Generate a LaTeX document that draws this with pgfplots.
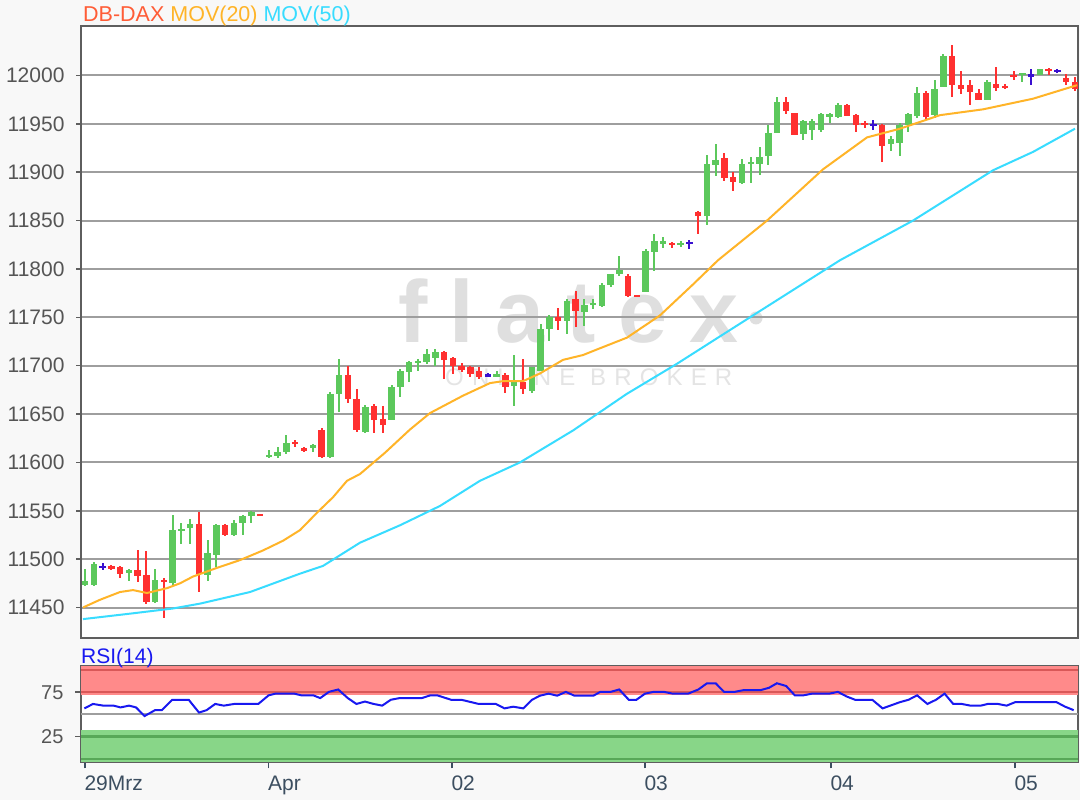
\documentclass[border=0pt]{standalone}
\usepackage{fontspec}
\setmainfont{Liberation Sans}
\newfontfamily\wmfont[LetterSpace=25]{Liberation Sans}
\newfontfamily\wmsmall[LetterSpace=34]{Liberation Sans}
\usepackage{pgfplots}
\pgfplotsset{compat=1.18}
\usepackage{pgfplotstable}
\definecolor{bggray}{HTML}{F8F8F8}
\definecolor{framegray}{HTML}{5E5E5E}
\definecolor{gridgray}{HTML}{9E9E9E}
\definecolor{labgray}{HTML}{555555}
\definecolor{xlab}{HTML}{3C4E60}
\definecolor{cgreen}{HTML}{5CC85C}
\definecolor{cred}{HTML}{FF3030}
\definecolor{cblue}{HTML}{3A10D0}
\definecolor{mov20}{HTML}{FFB428}
\definecolor{mov50}{HTML}{38DCFF}
\definecolor{daxred}{HTML}{FF5C36}
\definecolor{rsiblue}{HTML}{1818F0}
\definecolor{bandred}{HTML}{FF8A8A}
\definecolor{bandredline}{HTML}{D95858}
\definecolor{bandgreen}{HTML}{88D688}
\definecolor{bandgreenline}{HTML}{58A858}
\definecolor{wmgray}{HTML}{DFDFDF}

\pgfplotstableread{
i O H L C c
0 11473 11490 11472 11477 1
1 11473 11497 11472 11495 1
2 11492 11496 11489 11492 3
3 11493 11494 11489 11490 2
4 11492 11493 11481 11485 2
5 11486 11490 11478 11489 1
6 11489 11509 11476 11483 2
7 11484 11508 11454 11456 2
8 11456 11490 11455 11478 1
9 11478 11480 11439 11477 2
10 11475 11546 11473 11530 1
11 11529 11537 11516 11531 1
12 11532 11541 11516 11536 1
13 11536 11549 11466 11485 2
14 11484 11520 11478 11506 1
15 11504 11536 11492 11535 1
16 11535 11536 11524 11525 2
17 11525 11540 11524 11537 1
18 11537 11546 11525 11545 1
19 11545 11550 11537 11549 1
20 11546 11546 11545 11545 2
21 11606 11613 11605 11608 1
22 11607 11616 11605 11611 1
23 11611 11628 11609 11620 1
24 11621 11623 11616 11619 2
25 11615 11616 11611 11612 2
26 11615 11619 11611 11618 1
27 11634 11636 11605 11606 2
28 11606 11673 11605 11671 1
29 11671 11707 11652 11690 1
30 11690 11700 11662 11666 2
31 11666 11676 11632 11633 2
32 11631 11659 11630 11657 1
33 11658 11660 11631 11644 2
34 11645 11658 11630 11639 2
35 11644 11680 11644 11678 1
36 11678 11697 11668 11695 1
37 11693 11705 11683 11704 1
38 11703 11707 11695 11705 1
39 11704 11717 11702 11712 1
40 11708 11717 11700 11714 1
41 11714 11715 11686 11706 2
42 11708 11709 11691 11700 2
43 11700 11703 11693 11696 2
44 11699 11700 11688 11691 2
45 11695 11699 11686 11688 2
46 11690 11693 11688 11690 3
47 11688 11694 11688 11691 1
48 11690 11692 11672 11678 2
49 11679 11711 11658 11683 1
50 11683 11707 11671 11676 2
51 11674 11699 11672 11699 1
52 11695 11743 11695 11738 1
53 11738 11752 11726 11750 1
54 11750 11760 11737 11746 2
55 11746 11769 11733 11767 1
56 11769 11777 11740 11757 2
57 11756 11769 11741 11763 1
58 11763 11769 11759 11765 1
59 11762 11786 11761 11784 1
60 11783 11795 11781 11795 1
61 11795 11813 11793 11799 1
62 11793 11795 11771 11772 2
63 11772.5 11772.5 11772 11772 2
64 11776 11821 11776 11819 1
65 11818 11836 11798 11829 1
66 11826 11833 11822 11829 1
67 11827 11828 11822 11825 2
68 11825 11829 11823 11827 1
69 11826.5 11830 11821 11826.5 3
70 11859 11860 11836 11855 2
71 11855 11918 11846 11909 1
72 11907 11929 11896 11913 1
73 11915 11920 11891 11894 2
74 11895 11900 11881 11890 2
75 11889 11914 11888 11909 1
76 11908 11916 11889 11911 1
77 11909 11926 11897 11916 1
78 11917 11949 11908 11941 1
79 11941 11978 11941 11973 1
80 11973 11978 11960 11963 2
81 11961 11961 11939 11939 2
82 11939 11954 11933 11953 1
83 11944 11955 11933 11953 1
84 11944 11961 11942 11960 1
85 11957 11961 11951 11960 1
86 11957 11972 11956 11970 1
87 11970 11971 11958 11958 2
88 11959 11960 11942 11949 2
89 11950 11953 11946 11949 2
90 11949 11954 11944 11949 3
91 11949 11950 11911 11927 2
92 11929 11937 11922 11934 1
93 11930 11951 11917 11949 1
94 11949 11961 11942 11960 1
95 11958 11988 11956 11982 1
96 11982 11984 11955 11957 2
97 11959 11995 11956 11986 1
98 11988 12022 11988 12020 1
99 12020 12032 11978 11990 2
100 11990 12005 11981 11986 2
101 11990 11995 11969 11983 2
102 11982 11986 11975 11975 2
103 11975 11995 11975 11993 1
104 11991 12009 11984 11987 2
105 11989 11991 11986 11988 2
106 12000 12005 11995 11999 2
107 12001 12002 11993 12002 1
108 12000 12007 11990 12000 3
109 12001 12007 12001 12007 1
110 12006 12008 12001 12005 2
111 12005 12007 12003 12005 3
112 11998 12002 11990 11993 2
113 11993 11998 11984 11986 2
}\candles

\pgfplotsset{
  wick/.style 2 args={forget plot, draw=none, mark=none,
    restrict expr to domain={\thisrow{c}}{#1:#1},
    error bars/.cd, y dir=both, y explicit, error mark=none,
    error bar style={line width=2pt, draw=#2}},
  body/.style 2 args={forget plot, draw=none, mark=none,
    restrict expr to domain={\thisrow{c}}{#1:#1},
    error bars/.cd, y dir=both, y explicit, error mark=none,
    error bar style={line width=6.5pt, draw=#2}},
}
\newcommand{\wicks}[2]{\addplot[wick={#1}{#2}] table[x expr=85+8.76*\thisrow{i}, y expr=(\thisrow{H}+\thisrow{L})/2, y error expr=(\thisrow{H}-\thisrow{L})/2]{\candles};}
\newcommand{\bodies}[2]{\addplot[body={#1}{#2}] table[x expr=85+8.76*\thisrow{i}, y expr=(\thisrow{O}+\thisrow{C})/2, y error expr={max(abs(\thisrow{O}-\thisrow{C})/2,1.1)}]{\candles};}

\begin{document}
\begin{tikzpicture}[x=1pt,y=1pt]
\path[use as bounding box, fill=bggray] (0,0) rectangle (1080,800);
\fill[white] (81,162) rectangle (1078,774);
\fill[white] (81,37.4) rectangle (1078,133.8);
% watermark
\node[anchor=base west, inner sep=0, text depth=0pt, text=wmgray, font=\wmfont\bfseries\fontsize{88}{88}\selectfont] at (398,457) {flatex};
\fill[wmgray] (756,482) circle (6.5);
\node[anchor=base west, inner sep=0, text depth=0pt, text=wmgray!85!white, font=\wmsmall\fontsize{24}{24}\selectfont] at (445,414) {ONLINE BROKER};

\begin{axis}[at={(81,167)}, anchor=south west, width=997pt, height=612pt, scale only axis,
  xmin=81, xmax=1078, ymin=11418, ymax=12050.7,
  xtick=\empty, ytick={11450,11500,...,12000}, ytick pos=left,
  tick align=outside, major tick length=5pt,
  tick style={draw=framegray, line width=1.5pt},
  ymajorgrids, major grid style={draw=gridgray, line width=2pt},
  axis line style={draw=framegray, line width=2pt},
  scaled y ticks=false,
  /pgf/number format/assume math mode=true,
  /pgf/number format/set thousands separator={},
  yticklabel style={font=\fontsize{21}{21}\selectfont, text=labgray, anchor=east, xshift=-8pt},
]
\wicks{1}{cgreen}
\wicks{2}{cred}
\wicks{3}{cblue}
\bodies{1}{cgreen}
\bodies{2}{cred}
\bodies{3}{cblue}
\addplot[mov20, line width=2pt, mark=none] coordinates {(83,11450) (100,11458) (120,11466) (133,11468) (147,11465) (167,11470) (180,11475) (193,11482) (217,11491) (240,11499) (263,11509) (283,11519) (300,11530) (317,11548) (333,11564) (347,11581) (360,11588) (385,11610) (410,11634) (430,11651) (463,11669) (490,11682) (503,11684) (523,11684) (540,11692) (563,11706) (583,11711) (600,11718) (627,11729) (660,11752) (693,11784) (718,11809) (767,11850) (823,11903) (867,11936) (900,11945) (940,11959) (983,11965) (1033,11976) (1077,11990)};
\addplot[mov50, line width=2pt, mark=none] coordinates {(83,11438) (133,11444) (173,11449) (200,11454) (250,11466) (300,11485) (323,11493) (360,11517) (400,11535) (440,11555) (480,11581) (520,11600) (573,11633) (627,11671) (677,11702) (718,11729) (750,11750) (840,11809) (913,11850) (993,11902) (1033,11921) (1075,11945)};
\end{axis}

\begin{axis}[at={(81,42.4)}, anchor=south west, width=997pt, height=96.4pt, scale only axis,
  xmin=81, xmax=1078, ymin=-4, ymax=104.6,
  xtick={85,268.6,452,645,831,1015}, xticklabels={29Mrz,Apr,02,03,04,05},
  ytick={25,75}, ytick pos=left, xtick pos=bottom,
  tick align=outside, major tick length=6pt,
  tick style={draw=framegray, line width=1.5pt},
  xtick style={draw=xlab},
  axis line style={draw=framegray, line width=2pt},
  /pgf/number format/assume math mode=true,
  yticklabel style={font=\fontsize{20}{20}\selectfont, text=labgray, anchor=east, xshift=-8pt},
  xticklabel style={font=\fontsize{21}{21}\selectfont, text=xlab, anchor=north west, xshift=-4pt, yshift=-4pt},
]
\addplot[draw=none, fill=bandred, forget plot] coordinates {(81,72) (1078,72) (1078,104.6) (81,104.6)} --cycle;
\addplot[draw=none, fill=bandgreen, forget plot] coordinates {(81,-4) (1078,-4) (1078,32) (81,32)} --cycle;
\addplot[bandredline, line width=2.5pt] coordinates {(81,75) (1078,75)};
\addplot[bandredline, line width=2.5pt] coordinates {(81,100) (1078,100)};
\addplot[bandgreenline, line width=2.5pt] coordinates {(81,25) (1078,25)};
\addplot[bandgreenline, line width=2.5pt] coordinates {(81,0) (1078,0)};
\addplot[gridgray, line width=2pt] coordinates {(81,50) (1078,50)};
\addplot[rsiblue, line width=2pt, mark=none] coordinates {(84.4,56.8) (93,61.8) (103.3,59.9) (113.6,59.9) (120.5,57.9) (129.1,59.9) (136,57.9) (144.6,48.2) (155,54.8) (161.8,54.8) (172.2,66.5) (188.7,66.5) (199,52.1) (206.6,54.8) (215.2,61.8) (223.8,59.9) (234.2,61.8) (258.3,61.8) (268.6,71.5) (275.5,73.4) (294.4,73.4) (301.3,71.5) (313.4,71.5) (320.2,68.4) (328.9,75.4) (338.2,78.1) (347.8,68.4) (356.4,61.8) (365,64.5) (373.6,61.8) (382.2,59.9) (390.8,66.5) (399.5,68.4) (421.8,68.4) (430.4,71.5) (437.3,71.5) (451.1,66.5) (461.4,66.5) (478.7,61.8) (495.9,61.8) (504.5,56.8) (513.1,58.7) (523.4,56.8) (532,66.5) (540,71.1) (548.6,73.4) (557.2,71.1) (565.8,75.4) (574.4,71.1) (593.4,71.1) (600.3,75.4) (610.6,75.4) (619.2,78.1) (628.8,66.5) (636.4,66.5) (645,73.4) (653.6,75.4) (664,75.4) (672.6,73.4) (688.1,73.4) (698.4,78.1) (707,85.1) (715.6,85.1) (724.2,75.4) (734.6,75.4) (743.2,77.3) (760.4,77.3) (769,80) (776.9,85.1) (786.2,82) (794.8,71.5) (803.4,71.5) (812,73.4) (829.3,73.4) (837.9,75.4) (846.5,70.3) (855.1,66.5) (872.3,66.5) (882.6,56.8) (899.9,63.8) (908.5,66.5) (917.1,71.5) (927.4,61.8) (936,66.5) (944.6,73.4) (953.2,61.8) (961.8,61.8) (970.4,59.9) (980.8,59.9) (987.7,61.8) (998,61.8) (1006.6,59.9) (1015.2,63.8) (1056.5,63.8) (1065.1,58.7) (1073.7,54.8)};
\end{axis}

\node[anchor=base west, inner sep=0, font=\fontsize{21.5}{22}\selectfont] at (83,778.3) {\textcolor{daxred}{DB-DAX} \textcolor{mov20}{MOV(20)} \textcolor{mov50}{MOV(50)}};
\node[anchor=base west, inner sep=0, font=\fontsize{21}{21}\selectfont, text=rsiblue] at (81,136.5) {RSI(14)};
\end{tikzpicture}
\end{document}
